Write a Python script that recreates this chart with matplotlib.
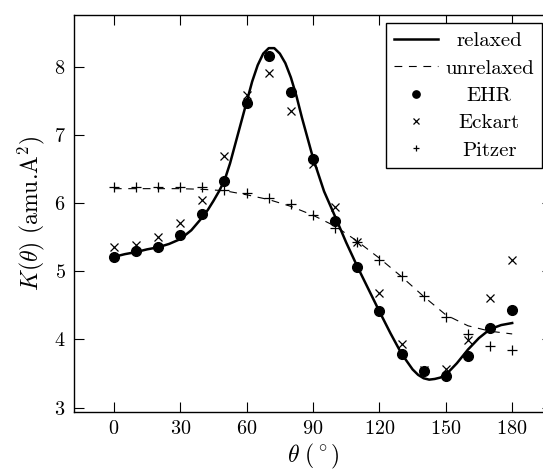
import matplotlib
matplotlib.use('Agg')
import matplotlib.pyplot as plt

# LaTeX look
plt.rcParams['font.family'] = 'serif'
plt.rcParams['font.serif'] = ['cmr10']
plt.rcParams['mathtext.fontset'] = 'cm'
plt.rcParams['axes.unicode_minus'] = False
plt.rcParams['axes.formatter.use_mathtext'] = True

# computed points, every 10 degrees
theta = [0, 10, 20, 30, 40, 50, 60, 70, 80, 90, 100, 110, 120, 130, 140, 150, 160, 170, 180]
ehr = [5.21, 5.29, 5.36, 5.53, 5.84, 6.32, 7.47, 8.16, 7.62, 6.64, 5.73, 5.06, 4.41, 3.79, 3.53, 3.47, 3.75, 4.17, 4.43]
eckart = [5.36, 5.38, 5.50, 5.71, 6.04, 6.69, 7.58, 7.91, 7.35, 6.57, 5.94, 5.43, 4.68, 3.93, 3.55, 3.56, 3.99, 4.60, 5.17]
pitzer = [6.24, 6.24, 6.24, 6.24, 6.23, 6.19, 6.15, 6.08, 5.98, 5.83, 5.64, 5.43, 5.16, 4.93, 4.64, 4.33, 4.08, 3.91, 3.84]

# curves (finer steps where they bend)
theta_relaxed = [0, 5, 10, 15, 20, 25, 30, 35, 40, 42.5, 45, 47.5, 50, 52.5, 55, 57.5, 60, 62.5, 65, 67.5,
                 70, 72.5, 75, 77.5, 80, 82.5, 85, 90, 95, 100, 105, 110, 115, 120, 125, 130, 135,
                 137.5, 140, 142.5, 145, 147.5, 150, 155, 160, 165, 170, 175, 180]
relaxed = [5.21, 5.25, 5.28, 5.32, 5.35, 5.40, 5.47, 5.60, 5.79, 5.90, 6.03, 6.17, 6.33, 6.58, 6.88, 7.18, 7.48, 7.78, 8.02, 8.19,
           8.27, 8.27, 8.19, 8.05, 7.84, 7.57, 7.25, 6.66, 6.17, 5.80, 5.42, 5.07, 4.74, 4.41, 4.09, 3.79, 3.56,
           3.48, 3.43, 3.41, 3.42, 3.44, 3.48, 3.65, 3.85, 4.02, 4.15, 4.21, 4.24]
theta_unrelaxed = [0, 10, 20, 30, 40, 50, 60, 70, 80, 90, 100, 110, 120, 130, 140, 150, 160, 170, 180]
unrelaxed = [6.21, 6.21, 6.21, 6.21, 6.20, 6.18, 6.12, 6.05, 5.95, 5.82, 5.66, 5.44, 5.19, 4.92, 4.63, 4.36, 4.20, 4.12, 4.08]

xticks = [0, 30, 60, 90, 120, 150, 180]
yticks = [3, 4, 5, 6, 7, 8]

fig = plt.figure(figsize=(5.43, 4.73), dpi=100)
ax = fig.add_axes([0.1363, 0.1296, 0.8803, 0.8387])

ax.plot(theta_relaxed, relaxed, 'k-', lw=1.8, label='relaxed')
ax.plot(theta_unrelaxed, unrelaxed, 'k--', lw=0.8, dashes=(7, 6), label='unrelaxed')
ax.plot(theta, ehr, 'ko', ms=7, label='EHR')
ax.plot(theta, eckart, 'kx', ms=6, mew=0.9, label='Eckart')
ax.plot(theta, pitzer, 'k+', ms=6.5, mew=0.9, label='Pitzer')

ax.set_xlim(-18, 198)
ax.set_ylim(2.94, 8.756)
ax.set_xticks(xticks)
ax.set_yticks(yticks)
ax.tick_params(direction='in', length=7, width=0.8, top=True, right=True, labelsize=14.5, pad=6)
for s in ax.spines.values():
    s.set_linewidth(1.0)

ax.set_xlabel(r'$\theta\ (^\circ)$', fontsize=17, labelpad=3)
ax.set_ylabel(r'$K(\theta)$ (amu.A$^2$)', fontsize=17, labelpad=5)

leg = ax.legend(loc='upper right', bbox_to_anchor=(0.979, 0.979), borderaxespad=0,
                fontsize=15, numpoints=1, markerscale=0.75, handlelength=2.1,
                handletextpad=0.35, labelspacing=0.42, borderpad=0.4,
                fancybox=False, framealpha=1, edgecolor='k')
leg.get_frame().set_linewidth(1.0)

# centre the legend labels
fig.canvas.draw()
r = fig.canvas.get_renderer()
texts = leg.get_texts()
widths = [t.get_window_extent(r).width for t in texts]
for t, w in zip(texts, widths):
    t.set_x((max(widths) - w) / 2)

plt.savefig('out.png', dpi=100)
